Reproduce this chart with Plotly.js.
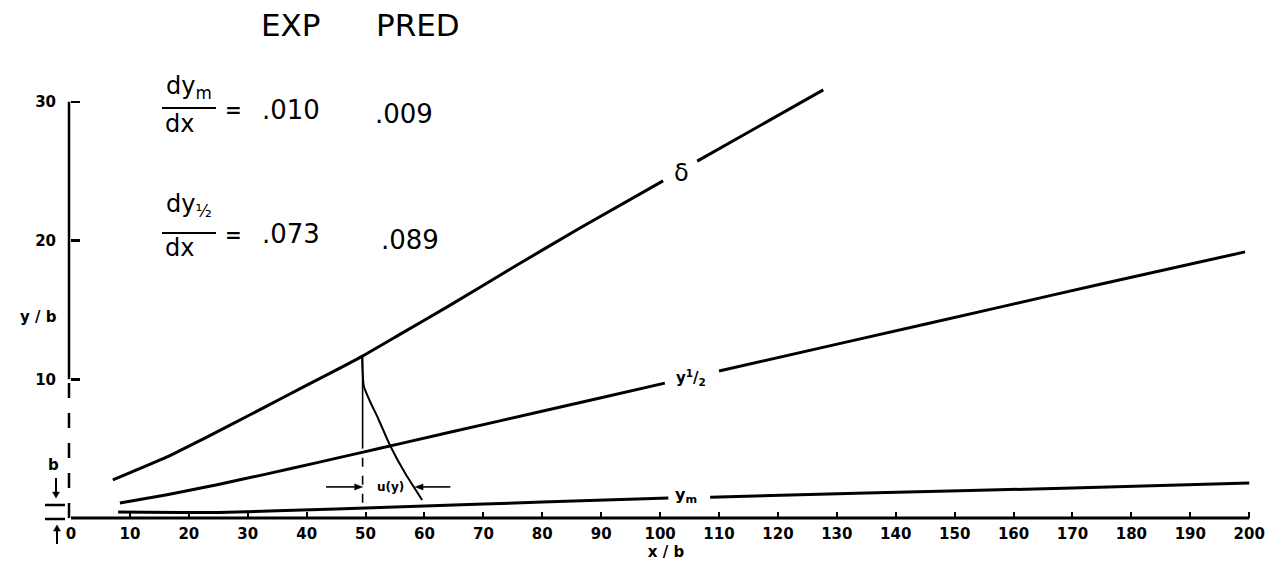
<!DOCTYPE html>
<html>
<head>
<meta charset="utf-8">
<script src="https://cdn.plot.ly/plotly-3.0.1.min.js"></script>
<style>
  html, body { margin: 0; padding: 0; background: #ffffff; }
  #chart { width: 1288px; height: 566px; }
</style>
</head>
<body>
<div id="chart"></div>
<script>
// ---------------- data ----------------
// boundary-layer edge  delta
const deltaX = [7.1, 16.3, 21.9, 27.5, 33.3, 38.9, 44.5, 49.4, 55.9, 63.8, 75.0, 86.4, 100.5, null, 106.3, 127.7];
const deltaY = [2.74, 4.40, 5.58, 6.80, 8.08, 9.33, 10.55, 11.65, 13.25, 15.2, 18.05, 20.9, 24.3, null, 25.72, 30.86];
// half-velocity point  y 1/2
const halfX = [8.3, 16.3, 24.8, 33.3, 41.8, 49.6, 55.9, 72.8, 89.8, 100.8, null, 110.0, 132.3, 157.7, 174.7, 199.3];
const halfY = [1.08, 1.68, 2.40, 3.18, 3.99, 4.75, 5.36, 7.00, 8.65, 9.72, null, 10.60, 12.75, 15.20, 16.85, 19.18];
// maximum-velocity point  y m
const ymX = [8.0, 25.0, 45.0, 60.0, 80.0, 101.4, null, 108.5, 135.0, 170.0, 200.0];
const ymY = [0.43, 0.40, 0.65, 0.86, 1.15, 1.44, null, 1.50, 1.80, 2.16, 2.52];
// sketched velocity profile u(y) at the x/b = 50 station
const uX = [49.4, 49.7, 50.8, 52.1, 54.2, 56.7, 59.6];
const uY = [11.65, 9.52, 8.36, 7.21, 5.19, 3.24, 1.30];
const uStation = 49.5;          // x/b of the profile station
const uStationTop = 11.65;      // where the station line meets delta
const uStationSolidEnd = 5.0;
const uStationBottom = 1.1;
const uArrowY = 2.24;
const uArrowLeft = [43.3, 49.5];   // tail, head
const uArrowRight = [64.4, 58.4];  // tail, head

// growth rates (experiment, prediction)
const rateLabels = ['m', '½'];
const rateExp = ['.010', '.073'];
const ratePred = ['.009', '.089'];

// axis ticks
const xTickVals = [0,10,20,30,40,50,60,70,80,90,100,110,120,130,140,150,160,170,180,190,200];
const xTickText = ['0','10','20','30','40','50','60','70','80','90','100','110','120','130','140','150','160','170','180','190','200'];
const yTickVals = [10, 20, 30];
const yTickText = ['10', '20', '30'];

// ---------------- layout helpers (pixel -> paper) ----------------
const W = 1288, H = 566;
const M = {l: 71, r: 27, t: 74, b: 48};
const XR = [0, 202], YR = [0, 32];
const PW = W - M.l - M.r, PH = H - M.t - M.b;
const X = px => (px - M.l) / PW;
const Y = py => (H - M.b - py) / PH;
const dx2px = x => M.l + (x - XR[0]) / (XR[1] - XR[0]) * PW;
const dy2px = y => H - M.b - (y - YR[0]) / (YR[1] - YR[0]) * PH;
const FAM = 'DejaVu Sans, Arial, sans-serif';
const ink = '#000000';

const line = (x, y, w, shape) => ({
  type: 'scatter', mode: 'lines', x: x, y: y,
  line: {color: ink, width: w, shape: shape || 'spline', smoothing: 0.5},
  hoverinfo: 'skip', connectgaps: false
});

const traces = [
  line(deltaX, deltaY, 3),
  line(halfX, halfY, 3),
  line(ymX, ymY, 3),
  line(uX, uY, 2)
];

function txt(x, y, text, size, weight) {
  return {
    xref: 'paper', yref: 'paper', x: X(x), y: Y(y), text: text, showarrow: false,
    xanchor: 'center', yanchor: 'middle',
    font: {family: FAM, size: size, color: ink, weight: weight || 'normal'}
  };
}
function dtxt(x, y, text, size, weight) {
  return {
    xref: 'x', yref: 'y', x: x, y: y, text: text, showarrow: false,
    xanchor: 'center', yanchor: 'middle',
    font: {family: FAM, size: size, color: ink, weight: weight || 'normal'}
  };
}

// arrow drawn as shapes, in pixel space (tail -> head)
function arrow(x0, y0, x1, y1, w, hl, hw) {
  const dx = x1 - x0, dy = y1 - y0, L = Math.hypot(dx, dy);
  const ux = dx / L, uy = dy / L, nx = -uy, ny = ux;
  const bx = x1 - ux * hl, by = y1 - uy * hl;
  const p1 = [bx + nx * hw, by + ny * hw], p2 = [bx - nx * hw, by - ny * hw];
  return [
    {type: 'line', xref: 'paper', yref: 'paper', x0: X(x0), y0: Y(y0), x1: X(bx), y1: Y(by),
     line: {color: ink, width: w}},
    {type: 'path', xref: 'paper', yref: 'paper',
     path: 'M ' + X(x1) + ',' + Y(y1) + ' L ' + X(p1[0]) + ',' + Y(p1[1]) + ' L ' + X(p2[0]) + ',' + Y(p2[1]) + ' Z',
     fillcolor: ink, line: {color: ink, width: 0.5}}
  ];
}

const annotations = [
  txt(291, 25, 'EXP', 31),
  txt(418, 25, 'PRED', 31),
  // first rate
  txt(189, 87, 'dy<sub>' + rateLabels[0] + '</sub>', 24),
  txt(179, 124, 'dx', 24),
  txt(233, 110, '=', 20, 'bold'),
  txt(291, 110, rateExp[0], 26),
  txt(404, 114, ratePred[0], 26),
  // second rate
  txt(189, 206, 'dy<sub>' + rateLabels[1] + '</sub>', 24),
  txt(179, 248, 'dx', 24),
  txt(233, 235, '=', 20, 'bold'),
  txt(291, 234, rateExp[1], 26),
  txt(410, 240, ratePred[1], 26),
  // curve labels
  dtxt(103.7, 24.9, 'δ', 24),
  dtxt(105.3, 10.1, 'y<sup>1</sup>/<sub>2</sub>', 15, 'bold'),
  dtxt(104.4, 1.6, 'y<sub>m</sub>', 16, 'bold'),
  dtxt(54.3, uArrowY, 'u(y)', 12, 'bold'),
  // y-axis title and b marker
  txt(38, 317, 'y / b', 15, 'bold'),
  txt(53, 465, 'b', 15, 'bold')
];

let shapes = [
  // y axis (solid upper part, broken lower part)
  {type: 'line', xref: 'paper', yref: 'y', x0: X(69), x1: X(69), y0: 10, y1: 30,
   line: {color: ink, width: 2.5}},
  {type: 'line', xref: 'paper', yref: 'y', x0: X(69), x1: X(69), y0: 0, y1: 10,
   line: {color: ink, width: 2.5, dash: 'longdash'}},
  // x axis
  {type: 'line', xref: 'x', yref: 'paper', x0: 0, x1: 200, y0: 0, y1: 0,
   line: {color: ink, width: 3}},
  // fraction bars
  {type: 'line', xref: 'paper', yref: 'paper', x0: X(162), x1: X(216), y0: Y(108), y1: Y(108),
   line: {color: ink, width: 2}},
  {type: 'line', xref: 'paper', yref: 'paper', x0: X(162), x1: X(216), y0: Y(233), y1: Y(233),
   line: {color: ink, width: 2}},
  // b thickness marks
  {type: 'line', xref: 'paper', yref: 'paper', x0: X(45), x1: X(65), y0: Y(505), y1: Y(505),
   line: {color: ink, width: 2.5}},
  {type: 'line', xref: 'paper', yref: 'paper', x0: X(45), x1: X(65), y0: Y(519), y1: Y(519),
   line: {color: ink, width: 2.5}},
  // profile station line
  {type: 'line', xref: 'x', yref: 'y', x0: uStation, x1: uStation, y0: uStationSolidEnd, y1: uStationTop,
   line: {color: ink, width: 1.6}},
  {type: 'line', xref: 'x', yref: 'y', x0: uStation, x1: uStation, y0: uStationBottom, y1: uStationSolidEnd,
   line: {color: ink, width: 1.6, dash: 'dash'}}
];
// b marker arrows
shapes = shapes.concat(arrow(56, 478, 56, 498, 2, 6, 3.5));
shapes = shapes.concat(arrow(57, 544, 57, 525, 2, 6, 3.5));
// u(y) width arrows
shapes = shapes.concat(arrow(dx2px(uArrowLeft[0]), dy2px(uArrowY), dx2px(uArrowLeft[1]), dy2px(uArrowY), 1.6, 8, 3));
shapes = shapes.concat(arrow(dx2px(uArrowRight[0]), dy2px(uArrowY), dx2px(uArrowRight[1]), dy2px(uArrowY), 1.6, 8, 3));

const tickFont = {family: FAM, size: 15, color: ink, weight: 'bold'};

const layout = {
  width: W, height: H,
  margin: {l: M.l, r: M.r, t: M.t, b: M.b, pad: 0},
  paper_bgcolor: '#ffffff', plot_bgcolor: '#ffffff',
  showlegend: false,
  xaxis: {
    range: XR, tickmode: 'array', tickvals: xTickVals, ticktext: xTickText,
    ticks: 'inside', ticklen: 6, tickwidth: 2, tickcolor: ink,
    showgrid: false, zeroline: false, showline: false, automargin: false,
    tickfont: tickFont, ticklabelstandoff: 5,
    title: {text: 'x / b', font: {family: FAM, size: 15, color: ink, weight: 'bold'}, standoff: 4}
  },
  yaxis: {
    range: YR, tickmode: 'array', tickvals: yTickVals, ticktext: yTickText,
    ticks: 'inside', ticklen: 9, tickwidth: 2.5, tickcolor: ink,
    showgrid: false, zeroline: false, showline: false, automargin: false,
    tickfont: tickFont, ticklabelstandoff: 14
  },
  annotations: annotations,
  shapes: shapes
};

Plotly.newPlot('chart', traces, layout, {staticPlot: true, displayModeBar: false});
</script>
</body>
</html>
